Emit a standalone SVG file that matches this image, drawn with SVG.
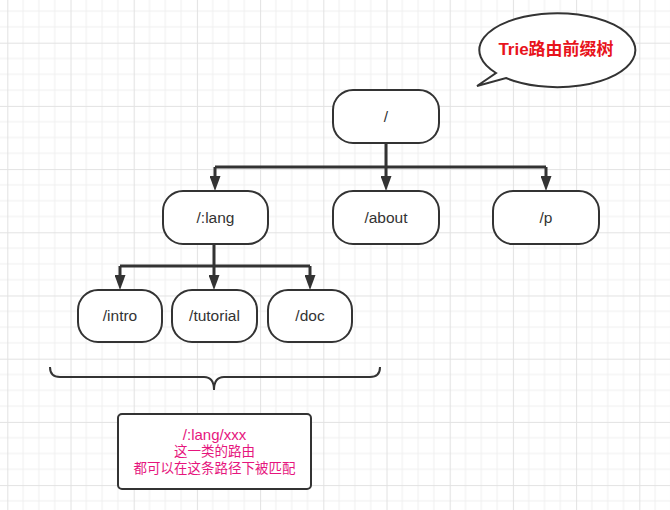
<svg xmlns="http://www.w3.org/2000/svg" width="670" height="510" viewBox="0 0 670 510">
<style>
.node rect{fill:#fff;stroke:#333;stroke-width:2}
.node text{font-family:"Liberation Sans","Noto Sans CJK SC",sans-serif;font-size:15.5px;fill:#333;text-anchor:middle}
.conn{fill:none;stroke:#333;stroke-width:3}
.pink{font-family:"Liberation Sans","Noto Sans CJK SC",sans-serif;font-size:13.5px;fill:#e6157d;text-anchor:middle}
.pink.big{font-size:15px}
</style>
<defs>
<pattern id="grid" patternUnits="userSpaceOnUse" x="7.3" y="-20.5" width="63.2" height="63.2">
<rect width="63.2" height="63.2" fill="#fff"/>
<g stroke="#f0f0f0" stroke-width="1">
<line x1="15.8" y1="0" x2="15.8" y2="63.2"/><line x1="31.6" y1="0" x2="31.6" y2="63.2"/><line x1="47.4" y1="0" x2="47.4" y2="63.2"/>
<line x1="0" y1="15.8" x2="63.2" y2="15.8"/><line x1="0" y1="31.6" x2="63.2" y2="31.6"/><line x1="0" y1="47.4" x2="63.2" y2="47.4"/>
</g>
<g stroke="#e2e2e2" stroke-width="1">
<line x1="0.5" y1="0" x2="0.5" y2="63.2"/><line x1="0" y1="0.5" x2="63.2" y2="0.5"/>
</g>
</pattern>
<marker id="arr" markerWidth="11" markerHeight="15" refX="5.5" refY="0" orient="0" markerUnits="userSpaceOnUse">
<path d="M0,0 L11,0 L5.5,15 Z" fill="#333"/>
</marker>
</defs>
<rect width="670" height="510" fill="url(#grid)"/>

<g id="connectors">
<path class="conn" d="M386,143 V167"/>
<path class="conn" d="M215,167 H546"/>
<path class="conn" d="M215,167 V176" marker-end="url(#arr)"/>
<path class="conn" d="M386,167 V176" marker-end="url(#arr)"/>
<path class="conn" d="M546,167 V176" marker-end="url(#arr)"/>
<path class="conn" d="M214,244 V266"/>
<path class="conn" d="M120,266 H310"/>
<path class="conn" d="M120,266 V275" marker-end="url(#arr)"/>
<path class="conn" d="M214,266 V275" marker-end="url(#arr)"/>
<path class="conn" d="M310,266 V275" marker-end="url(#arr)"/>
</g>

<g id="bubble">
<path d="M496,73 A78,37 0 1 1 506,78 L477,86 Z" fill="#fff" stroke="#333" stroke-width="2" stroke-linejoin="miter"/>
<text x="556" y="55" font-family="'Liberation Sans','Noto Sans CJK SC',sans-serif" font-size="17" font-weight="bold" fill="#e8141c" text-anchor="middle">Trie路由前缀树</text>
</g>

<g id="root" class="node"><rect x="333" y="90" width="106" height="53" rx="20"/><text x="386" y="122">/</text></g>
<g id="lang" class="node"><rect x="163" y="191" width="105" height="53" rx="20"/><text x="215.5" y="223">/:lang</text></g>
<g id="about" class="node"><rect x="333" y="191" width="106" height="53" rx="20"/><text x="386" y="223">/about</text></g>
<g id="p" class="node"><rect x="493" y="191" width="106" height="53" rx="20"/><text x="546" y="223">/p</text></g>
<g id="intro" class="node"><rect x="78" y="290" width="84" height="52" rx="20"/><text x="120" y="321">/intro</text></g>
<g id="tutorial" class="node"><rect x="172" y="290" width="85" height="52" rx="20"/><text x="214.5" y="321">/tutorial</text></g>
<g id="doc" class="node"><rect x="268" y="290" width="84" height="52" rx="20"/><text x="310" y="321">/doc</text></g>

<g id="brace">
<path d="M50,367 Q50,377 60,377 L204,377 Q214,377 214,390 Q214,377 224,377 L370,377 Q380,377 380,367" fill="none" stroke="#333" stroke-width="2"/>
</g>

<g id="note">
<rect x="118" y="414" width="193" height="75" rx="4" fill="#fff" stroke="#333" stroke-width="2"/>
<text class="pink big" x="214.5" y="439.5">/:lang/xxx</text>
<text class="pink" x="214.5" y="455.5">这一类的路由</text>
<text class="pink" x="214.5" y="472.5">都可以在这条路径下被匹配</text>
</g>
</svg>
